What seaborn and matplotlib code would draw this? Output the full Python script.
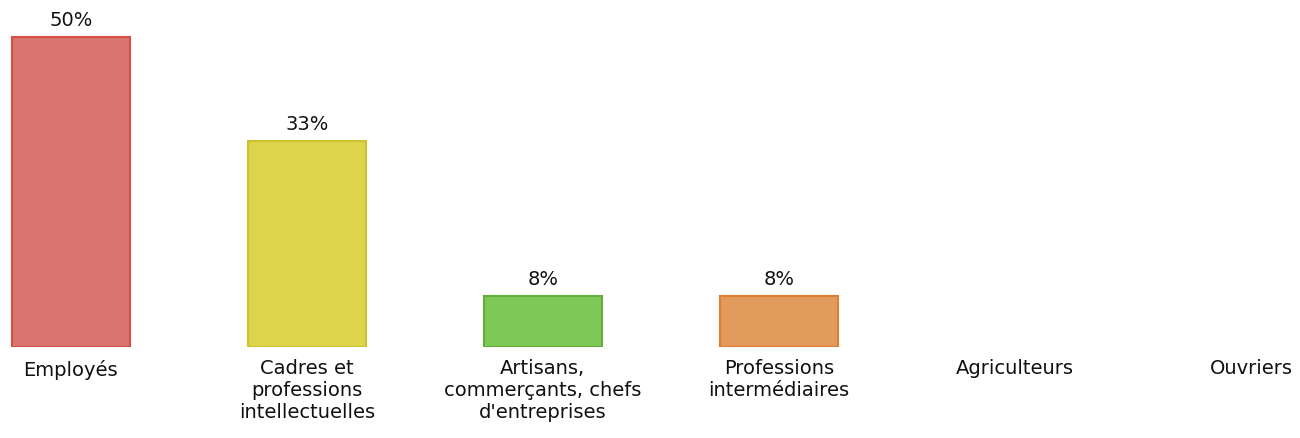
import matplotlib
matplotlib.use("Agg")
import matplotlib.pyplot as plt
import seaborn as sns
import pandas as pd

categories = ["Employés", "Cadres et\nprofessions\nintellectuelles",
              "Artisans,\ncommerçants, chefs\nd'entreprises",
              "Professions\nintermédiaires", "Agriculteurs", "Ouvriers"]
values = [50.0, 33.3, 8.3, 8.3, 0.0, 0.0]
value_labels = ["50%", "33%", "8%", "8%", "", ""]
fill_colors = ["#D9746F", "#DED44B", "#7EC857", "#E39A5D", "#FFFFFF", "#FFFFFF"]
edge_colors = ["#D4504A", "#CFC232", "#62AE3A", "#DC7F36", "none", "none"]

sns.set_theme(style="white")
plt.rcParams["font.family"] = ["DejaVu Sans"]

df = pd.DataFrame({"cat": categories, "val": values})

fig = plt.figure(figsize=(13, 4.38), dpi=100)
ax = fig.add_axes([0, 91 / 438, 1, 341 / 438])
sns.barplot(data=df, x="cat", y="val", hue="cat", palette=fill_colors,
            width=0.5, legend=False, ax=ax, linewidth=1.5, saturation=1)
for patch, ec, v in zip(ax.patches, edge_colors, values):
    patch.set_edgecolor(ec)
    if v == 0:
        patch.set_visible(False)

for i, (v, lab) in enumerate(zip(values, value_labels)):
    if lab:
        ax.annotate(lab, (i, v), xytext=(0, 5), textcoords="offset points",
                    ha="center", va="bottom", fontsize=14, color="#111111")

ax.set_xlim(-0.3, 5.208)
ax.set_ylim(0, 55)
ax.set_xlabel("")
ax.set_ylabel("")
ax.set_yticks([])
ax.tick_params(axis="x", length=0, pad=9, labelsize=14, labelcolor="#111111")
for s in ax.spines.values():
    s.set_visible(False)

fig.savefig("out.png", dpi=100)
